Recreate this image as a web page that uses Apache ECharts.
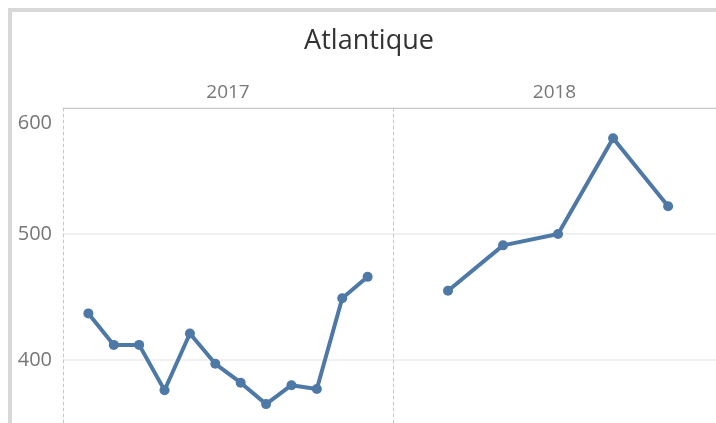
<!DOCTYPE html>
<html>
<head>
<meta charset="utf-8">
<script src="https://cdn.jsdelivr.net/npm/echarts@6/dist/echarts.min.js"></script>
<style>
  html, body { margin: 0; padding: 0; background: #fff; }
  #chart { width: 716px; height: 423px; }
</style>
</head>
<body>
<div id="chart"></div>
<script>
// donnees
var years = ['2017', '2018'];
var months2017 = [1, 2, 3, 4, 5, 6, 7, 8, 9, 10, 11, 12];
var values2017 = [437, 412, 412, 376, 421, 397, 382, 365, 380, 377, 449, 466];
var months2018 = [1, 2, 3, 4, 5];
var values2018 = [455, 491, 500, 576, 522];
var yTicks = [400, 500, 600];

var blue = '#4e79a7';
var grey = '#c8c8c8';

function pairs(xs, ys) {
  return xs.map(function (x, i) { return [x, ys[i]]; });
}

var chart = echarts.init(document.getElementById('chart'));

function xAx(idx, max) {
  return {
    type: 'value', gridIndex: idx, position: 'top', min: 0, max: max,
    name: years[idx], nameLocation: 'middle', nameGap: 6,
    nameTextStyle: { color: '#777', fontSize: 19, fontFamily: 'Open Sans', verticalAlign: 'bottom' },
    axisLine: { show: true, lineStyle: { color: grey, width: 1 } },
    axisTick: { show: false }, axisLabel: { show: false }, splitLine: { show: false }
  };
}

function yAx(idx) {
  return {
    type: 'value', gridIndex: idx, min: 350, max: 600, interval: 50,
    axisLine: { show: true, lineStyle: { color: grey, type: [3, 3], width: 1 } },
    axisTick: { show: false },
    axisLabel: {
      show: idx === 0, margin: 11, color: '#777', fontSize: 20, fontFamily: 'Open Sans',
      formatter: function (v) {
        if (yTicks.indexOf(v) < 0) return '';
        return v === 600 ? '{t|' + v + '}' : String(v);
      },
      rich: { t: { color: '#777', fontSize: 20, fontFamily: 'Open Sans', padding: [30, 0, 0, 0] } }
    },
    // une ligne sur deux: 400, 500, 600
    splitLine: { show: true, lineStyle: { color: ['rgba(0,0,0,0)', '#ececec'], width: 1.5 } }
  };
}

chart.setOption({
  animation: false,
  backgroundColor: '#fff',
  graphic: [{
    type: 'rect', shape: { x: 10, y: 10, width: 760, height: 500 },
    style: { fill: 'none', stroke: '#d8d8d8', lineWidth: 4 }, z: 10
  }, {
    type: 'text', x: 369, y: 28,
    style: { text: 'Atlantique', fill: '#333', font: '27px "Open Sans"', textAlign: 'center' }
  }],
  grid: [
    { left: 63, top: 108, width: 330, height: 315 },
    { left: 393, top: 108, width: 323, height: 315 }
  ],
  // le panneau 2018 est coupe au bord droit
  xAxis: [xAx(0, 13), xAx(1, 5.87)],
  yAxis: [yAx(0), yAx(1)],
  series: [{
    type: 'line', xAxisIndex: 0, yAxisIndex: 0, data: pairs(months2017, values2017),
    symbol: 'circle', symbolSize: 10, itemStyle: { color: blue },
    lineStyle: { color: blue, width: 4 }
  }, {
    type: 'line', xAxisIndex: 1, yAxisIndex: 1, data: pairs(months2018, values2018),
    symbol: 'circle', symbolSize: 10, itemStyle: { color: blue },
    lineStyle: { color: blue, width: 4 }
  }]
});
</script>
</body>
</html>
